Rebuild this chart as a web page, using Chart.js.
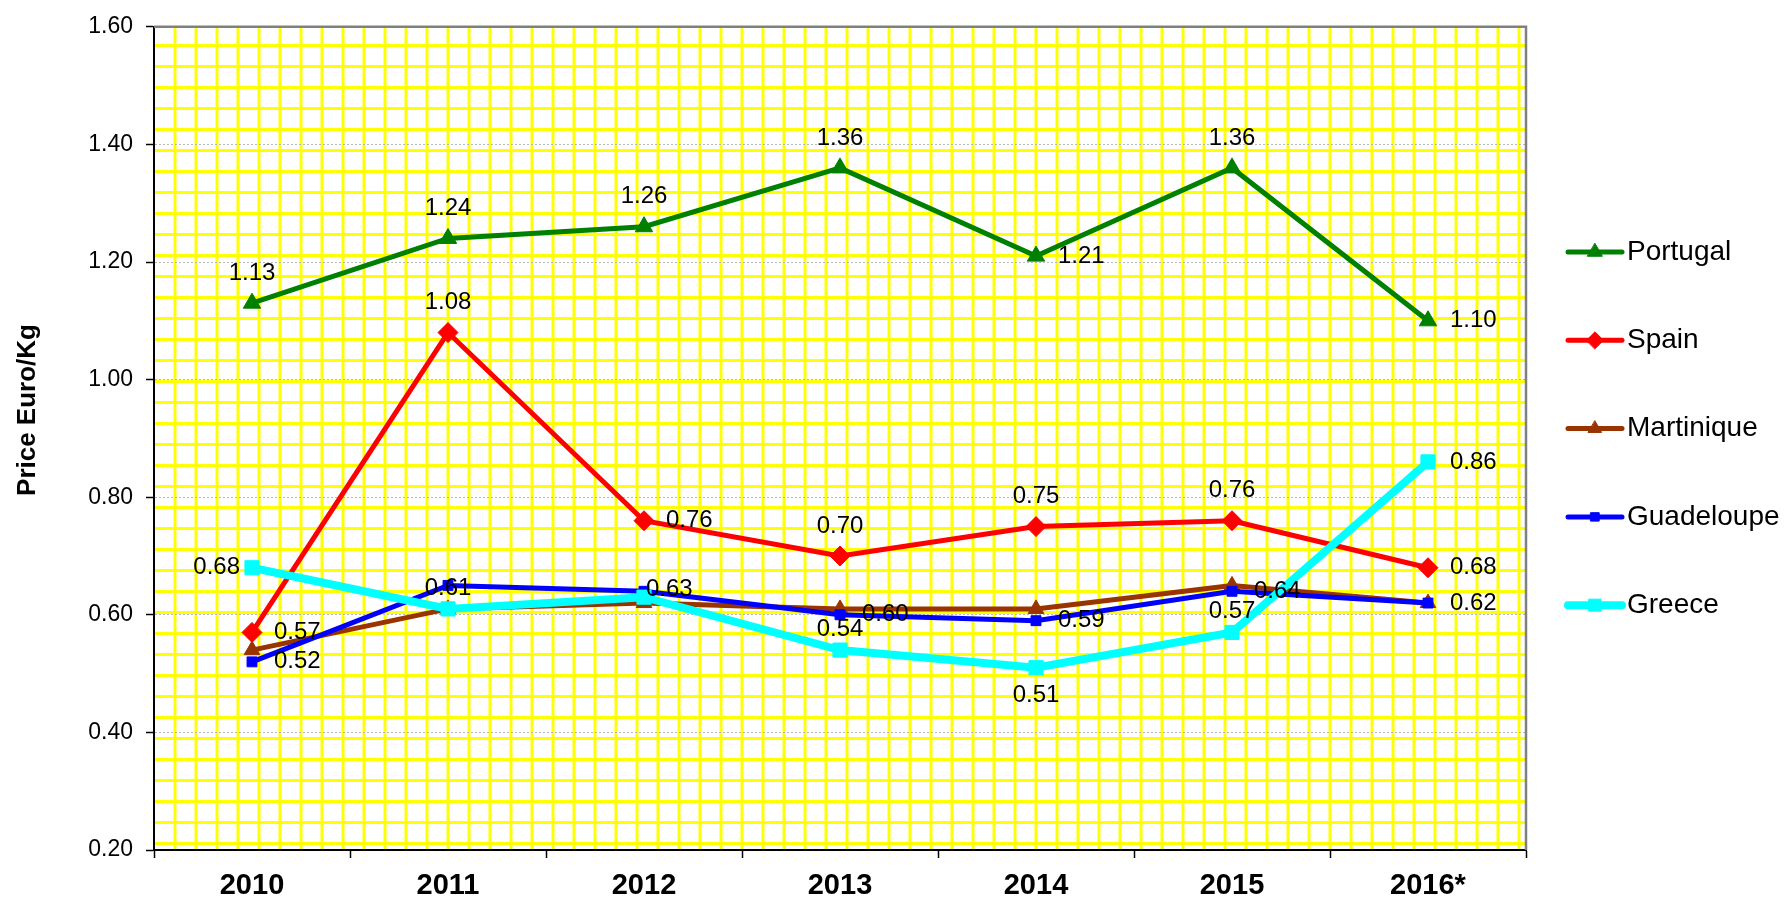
<!DOCTYPE html>
<html><head><meta charset="utf-8">
<script src="https://cdn.jsdelivr.net/npm/chart.js@4.4.0/dist/chart.umd.min.js"></script>
<style>html,body{margin:0;padding:0;background:#fff}#wrap{width:1787px;height:903px;position:relative}</style>
</head><body><div id="wrap"><canvas id="c"></canvas></div>
<script>
// ---- data ----
const years = ['2010','2011','2012','2013','2014','2015','2016*'];
const portugal   = [1.13,1.24,1.26,1.36,1.21,1.36,1.10];
const spain      = [0.57,1.08,0.76,0.70,0.75,0.76,0.68];
const martinique = [0.54,0.61,0.62,0.61,0.61,0.65,0.62];
const guadeloupe = [0.52,0.65,0.64,0.60,0.59,0.64,0.62];
const greece     = [0.68,0.61,0.63,0.54,0.51,0.57,0.86];
const yMin = 0.2, yMax = 1.6, yStep = 0.2;
const yTitle = 'Price Euro/Kg';
// ---- label placement (style) ----
const portugalLbl   = ['t','t','t','t','r','t','r'];
const spainLbl      = ['r','t','r','t','t','t','r'];
const martiniqueLbl = ['','','','','','',''];
const guadeloupeLbl = ['r','','','r','r','r','r'];
const greeceLbl     = ['l','n','ur','n','b','n','r'];

const FONT = '"Liberation Sans", Arial, sans-serif';

const datasets = [
  {label:'Portugal', data:portugal, borderColor:'#008000', borderWidth:5, pointStyle:'triangle', pointRadius:10, lbl:portugalLbl, order:4},
  {label:'Spain', data:spain, borderColor:'#ff0000', borderWidth:5, pointStyle:'rectRot', pointRadius:10, lbl:spainLbl, order:3},
  {label:'Martinique', data:martinique, borderColor:'#993300', borderWidth:5, pointStyle:'triangle', pointRadius:9, lbl:martiniqueLbl, order:2},
  {label:'Guadeloupe', data:guadeloupe, borderColor:'#0000ff', borderWidth:5, pointStyle:'rect', pointRadius:7, lbl:guadeloupeLbl, order:1},
  {label:'Greece', data:greece, borderColor:'#00ffff', borderWidth:8, pointStyle:'rect', pointRadius:10, lbl:greeceLbl, order:0}
].map(d => Object.assign(d, {backgroundColor:d.borderColor, pointBorderColor:d.borderColor, pointBackgroundColor:d.borderColor, pointBorderWidth:1, pointHoverRadius:d.pointRadius, tension:0, fill:false}));

const bgPlugin = {
  id:'bgGrid',
  beforeDraw(chart){
    const {ctx, chartArea:a} = chart;
    ctx.save();
    ctx.fillStyle = '#ffffff';
    ctx.fillRect(a.left, a.top, a.right-a.left, a.bottom-a.top);
    ctx.beginPath(); ctx.rect(a.left, a.top, a.right-a.left, a.bottom-a.top); ctx.clip();
    ctx.strokeStyle = '#ffff00'; ctx.lineWidth = 3;
    ctx.beginPath();
    for (let x = a.left + 21; x < a.right; x += 21) { ctx.moveTo(x, a.top); ctx.lineTo(x, a.bottom); }
    for (let y = a.top + 18.7; y < a.bottom; y += 21) { ctx.moveTo(a.left, y); ctx.lineTo(a.right, y); }
    ctx.stroke();
    ctx.restore();
  },
  beforeDatasetsDraw(chart){
    const {ctx, chartArea:a} = chart;
    ctx.save();
    ctx.strokeStyle = '#808080'; ctx.lineWidth = 2.5;
    ctx.beginPath();
    ctx.moveTo(a.left, a.top); ctx.lineTo(a.right, a.top); ctx.lineTo(a.right, a.bottom);
    ctx.stroke();
    ctx.restore();
    // y title
    ctx.save();
    ctx.translate(28, 410);
    ctx.rotate(-Math.PI/2);
    ctx.font = 'bold 26px ' + FONT;
    ctx.fillStyle = '#000';
    ctx.textAlign = 'center'; ctx.textBaseline = 'middle';
    ctx.fillText(yTitle, 0, 0);
    ctx.restore();
  }
};

const labelPlugin = {
  id:'dataLabels',
  afterDatasetsDraw(chart){
    const ctx = chart.ctx;
    ctx.save();
    ctx.font = '24px ' + FONT;
    ctx.fillStyle = '#000';
    ctx.textBaseline = 'middle';
    chart.data.datasets.forEach((ds, di) => {
      const meta = chart.getDatasetMeta(di);
      meta.data.forEach((pt, i) => {
        const pos = ds.lbl[i];
        if (!pos) return;
        const txt = ds.data[i].toFixed(2);
        let x = pt.x, y = pt.y, al = 'center';
        if (pos === 't') { y -= 30; }
        else if (pos === 'n') { y -= 21; }
        else if (pos === 'b') { y += 28; }
        else if (pos === 'r') { x += 22; al = 'left'; }
        else if (pos === 'l') { x -= 12; al = 'right'; }
        else if (pos === 'ur') { x += 2; y -= 8; al = 'left'; }
        ctx.textAlign = al;
        ctx.fillText(txt, x, y);
      });
    });
    ctx.restore();
  }
};

const legendPlugin = {
  id:'sideLegend',
  afterDraw(chart){
    const ctx = chart.ctx;
    const x0 = 1568, x1 = 1622, y0 = 252, dy = 88.3;
    ctx.save();
    chart.data.datasets.forEach((ds, i) => {
      const y = y0 + i*dy;
      ctx.strokeStyle = ds.borderColor; ctx.lineWidth = ds.borderWidth; ctx.lineCap = 'round';
      ctx.beginPath(); ctx.moveTo(x0, y); ctx.lineTo(x1, y); ctx.stroke();
      ctx.fillStyle = ds.borderColor; ctx.strokeStyle = ds.borderColor; ctx.lineWidth = 1;
      Chart.helpers.drawPoint(ctx, {pointStyle: ds.pointStyle, radius: ds.pointRadius*0.85, rotation:0, borderWidth:1}, (x0+x1)/2, y);
      ctx.fillStyle = '#000';
      ctx.font = '28px ' + FONT;
      ctx.textAlign = 'left'; ctx.textBaseline = 'middle';
      ctx.fillText(ds.label, 1627, y);
    });
    ctx.restore();
  }
};

new Chart(document.getElementById('c'), {
  type:'line',
  data:{labels:years, datasets:datasets},
  options:{
    responsive:true, maintainAspectRatio:false, animation:false,
    layout:{padding:{left:0, top:22, right:261, bottom:0}},
    plugins:{legend:{display:false}, tooltip:{enabled:false}, title:{display:false}},
    scales:{
      x:{
        offset:true,
        grid:{offset:true, drawOnChartArea:false, drawTicks:true, tickLength:8, tickColor:'#000', tickWidth:1.5},
        border:{color:'#000', width:2},
        ticks:{color:'#000', font:{family:FONT, size:29, weight:'bold'}, padding:11, maxRotation:0, autoSkip:false},
        afterFit(s){ s.height = 53; }
      },
      y:{
        min:yMin, max:yMax,
        grid:{color:'#b8b8b8', lineWidth:1, drawTicks:true, tickLength:8, tickColor:'#000', tickWidth:1.5},
        border:{color:'#000', width:2, dash:[2,2]},
        ticks:{stepSize:yStep, color:'#000', font:{family:FONT, size:23}, padding:13, callback:v => Number(v).toFixed(2)},
        afterFit(s){ s.width = 154; }
      }
    }
  },
  plugins:[bgPlugin, labelPlugin, legendPlugin]
});
</script>
</body></html>
